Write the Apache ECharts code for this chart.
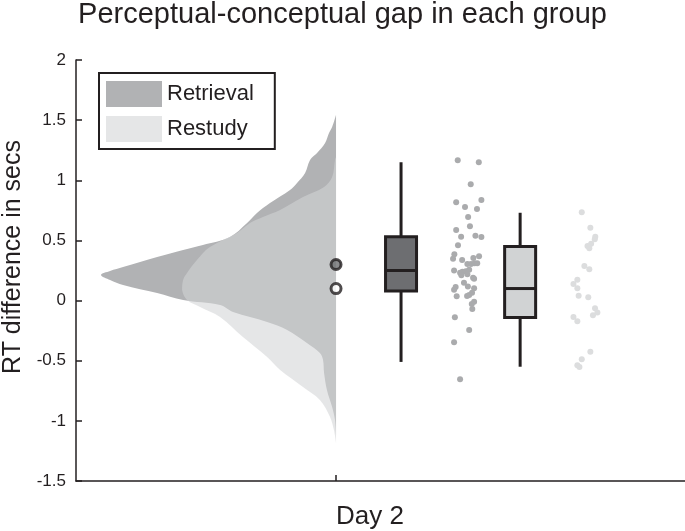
<!DOCTYPE html>
<html><head><meta charset="utf-8">
<script src="https://cdn.jsdelivr.net/npm/echarts@6/dist/echarts.min.js"></script>
<style>html,body{margin:0;padding:0;background:#fff}#c{width:685px;height:531px}</style>
</head><body><div id="c"></div>
<script>
// ---------- DATA ----------
const categories = ['Day 2'];
const groups = ['Retrieval', 'Restudy'];
const yTicks = [-1.5, -1, -0.5, 0, 0.5, 1, 1.5, 2];

// half-violin density profiles (y value, density width)
const retrievalDensityY = [1.543,1.443,1.393,1.310,1.227,1.169,1.061,0.978,0.919,0.811,0.728,0.645,0.529,0.462,0.420,0.362,0.279,0.246,0.213,0.171,0.130,0.063,0.005,-0.037,-0.095,-0.178,-0.244,-0.352,-0.436,-0.494,-0.602,-0.743,-0.885,-0.993,-1.117];
const retrievalDensityW = [0,0.015,0.027,0.042,0.073,0.100,0.119,0.150,0.177,0.254,0.304,0.342,0.408,0.512,0.588,0.688,0.819,0.869,0.904,0.869,0.819,0.688,0.588,0.446,0.396,0.265,0.188,0.112,0.062,0.050,0.046,0.035,0.015,0.004,0];
const restudyDensityY = [1.194,1.169,1.027,0.944,0.861,0.753,0.695,0.645,0.562,0.445,0.337,0.229,0.171,0.088,0.005,-0.053,-0.136,-0.303,-0.469,-0.577,-0.718,-0.826,-0.967,-1.076,-1.184];
const restudyDensityW = [0,0.004,0.015,0.046,0.127,0.215,0.281,0.331,0.381,0.485,0.535,0.573,0.588,0.592,0.573,0.523,0.446,0.358,0.265,0.215,0.127,0.062,0.023,0.008,0];

// box statistics: min, q1, median, q3, max
const retrievalBox = [-0.51, 0.08, 0.25, 0.53, 1.15];
const restudyBox = [-0.55, -0.14, 0.10, 0.45, 0.73];
const groupMeans = [0.30, 0.10];

// individual points (jitter x, value y)
const retrievalPointsX = [0.468,0.549,0.518,0.462,0.559,0.496,0.542,0.508,0.515,0.462,0.481,0.536,0.559,0.469,0.455,0.450,0.485,0.528,0.550,0.505,0.519,0.533,0.543,0.454,0.477,0.486,0.499,0.512,0.482,0.505,0.527,0.531,0.492,0.507,0.531,0.460,0.454,0.523,0.512,0.464,0.504,0.531,0.522,0.524,0.457,0.512,0.454,0.477];
const retrievalPointsY = [1.166,1.150,0.967,0.817,0.836,0.778,0.761,0.695,0.618,0.587,0.531,0.539,0.529,0.460,0.385,0.348,0.337,0.354,0.368,0.304,0.304,0.310,0.310,0.249,0.232,0.240,0.244,0.257,0.210,0.219,0.190,0.182,0.149,0.116,0.102,0.113,0.091,0.066,0.047,0.036,0.038,-0.009,-0.028,-0.070,-0.139,-0.244,-0.347,-0.654];
const restudyPointsX = [0.945,0.978,0.997,0.995,0.967,0.981,0.974,0.955,0.974,0.928,0.913,0.928,0.933,0.970,0.996,1.005,0.988,0.913,0.928,0.978,0.945,0.928,0.936];
const restudyPointsY = [0.734,0.606,0.531,0.510,0.454,0.473,0.435,0.288,0.260,0.174,0.138,0.102,0.041,0.027,-0.064,-0.100,-0.122,-0.136,-0.172,-0.425,-0.488,-0.538,-0.552];

// ---------- LAYOUT / STYLE ----------
const FONT = '"Liberation Sans", Arial, Helvetica, sans-serif';
const INK = '#231f20';
const dayPos = 0;
const boxPos = [0.25, 0.708];
const boxFill = ['#6d6e71', '#d1d3d4'];
const meanFill = ['#6d6e71', '#ffffff'];

function densityRender(ys, ws) {
  return function (params, api) {
    if (params.dataIndex !== 0) return;
    const pts = [];
    for (let i = 0; i < ys.length; i++) pts.push(api.coord([dayPos - ws[i], ys[i]]));
    let minX = Infinity, minY = Infinity, maxX = -Infinity, maxY = -Infinity;
    pts.forEach(p => { minX = Math.min(minX, p[0]); maxX = Math.max(maxX, p[0]); minY = Math.min(minY, p[1]); maxY = Math.max(maxY, p[1]); });
    return { type: 'polygon',
      shape: { points: pts, smooth: 0.35, smoothConstraint: [[minX, minY], [maxX, maxY]] },
      style: { fill: api.visual('color') } };
  };
}

function boxRender(params, api) {
  const x = api.value(0);
  const p = [1,2,3,4,5].map(d => api.coord([x, api.value(d)]));
  const hw = 15.5;
  const ls = { stroke: INK, lineWidth: 3 };
  return { type: 'group', children: [
    { type: 'line', shape: { x1: p[0][0], y1: p[0][1], x2: p[1][0], y2: p[1][1] }, style: ls },
    { type: 'line', shape: { x1: p[3][0], y1: p[3][1], x2: p[4][0], y2: p[4][1] }, style: ls },
    { type: 'rect', shape: { x: p[3][0] - hw, y: p[3][1], width: 2 * hw, height: p[1][1] - p[3][1] },
      style: { fill: boxFill[params.dataIndex], stroke: INK, lineWidth: 3 } },
    { type: 'line', shape: { x1: p[2][0] - hw, y1: p[2][1], x2: p[2][0] + hw, y2: p[2][1] }, style: ls }
  ]};
}

const chart = echarts.init(document.getElementById('c'), null, { renderer: 'canvas' });
const option = {
  animation: false,
  backgroundColor: '#fff',
  title: {
    text: 'Perceptual-conceptual gap in each group', left: 'center', top: 0, padding: 0,
    textStyle: { fontSize: 29, fontWeight: 'normal', color: INK, fontFamily: FONT }
  },
  legend: {
    data: groups, orient: 'vertical', left: 99, top: 73, icon: 'rect',
    itemWidth: 56, itemHeight: 26, itemGap: 9, padding: [8, 21, 7, 7],
    borderColor: INK, borderWidth: 2, backgroundColor: '#fff', selectedMode: false,
    textStyle: { fontSize: 22, color: INK, fontFamily: FONT }
  },
  graphic: [{
    type: 'text', x: 13, y: 257, rotation: Math.PI / 2,
    style: { text: 'RT difference in secs', fontSize: 25, fontFamily: FONT, fill: INK, align: 'center', verticalAlign: 'middle' }
  }],
  grid: { left: 76, right: 0, top: 60, bottom: 50 },
  xAxis: {
    type: 'value', min: -1, max: 1.342,
    axisLine: { show: true, onZero: false, lineStyle: { color: INK, width: 1.5 } },
    axisTick: { show: true, inside: true, length: 6, customValues: [dayPos], lineStyle: { color: INK, width: 1.5 } },
    axisLabel: { customValues: [dayPos], formatter: () => categories[0], fontSize: 26, color: INK, fontFamily: FONT, margin: 23, align: 'left' },
    splitLine: { show: false }
  },
  yAxis: {
    type: 'value', min: yTicks[0], max: yTicks[yTicks.length - 1], interval: 0.5,
    axisLine: { show: true, onZero: false, lineStyle: { color: INK, width: 1.5 } },
    axisTick: { show: true, inside: true, length: 6, lineStyle: { color: INK, width: 1.5 } },
    axisLabel: { fontSize: 17, color: INK, fontFamily: FONT, margin: 10 },
    splitLine: { show: false }
  },
  series: [
    { type: 'custom', name: 'Retrieval', renderItem: densityRender(retrievalDensityY, retrievalDensityW),
      itemStyle: { color: 'rgb(177,178,180)' }, data: [[dayPos, 0]], z: 1, silent: true },
    { type: 'custom', name: 'Restudy', renderItem: densityRender(restudyDensityY, restudyDensityW),
      itemStyle: { color: 'rgba(211,212,214,0.58)' }, data: [[dayPos, 0]], z: 2, silent: true },
    { type: 'scatter', name: 'means', symbol: 'circle', symbolSize: 10, z: 5,
      data: groupMeans.map((m, i) => ({ value: [dayPos, m], itemStyle: { color: meanFill[i], borderColor: INK, borderWidth: 3 } })) },
    { type: 'custom', name: 'boxes', renderItem: boxRender, z: 4,
      encode: { x: 0, y: [1,2,3,4,5] },
      data: [[boxPos[0]].concat(retrievalBox), [boxPos[1]].concat(restudyBox)] },
    { type: 'scatter', name: 'Retrieval points', symbolSize: 6, z: 3,
      itemStyle: { color: '#aaabad', opacity: 1 },
      data: retrievalPointsX.map((x, i) => [x, retrievalPointsY[i]]) },
    { type: 'scatter', name: 'Restudy points', symbolSize: 6, z: 3,
      itemStyle: { color: '#dcddde', opacity: 1 },
      data: restudyPointsX.map((x, i) => [x, restudyPointsY[i]]) }
  ]
};
chart.setOption(option);
</script></body></html>
